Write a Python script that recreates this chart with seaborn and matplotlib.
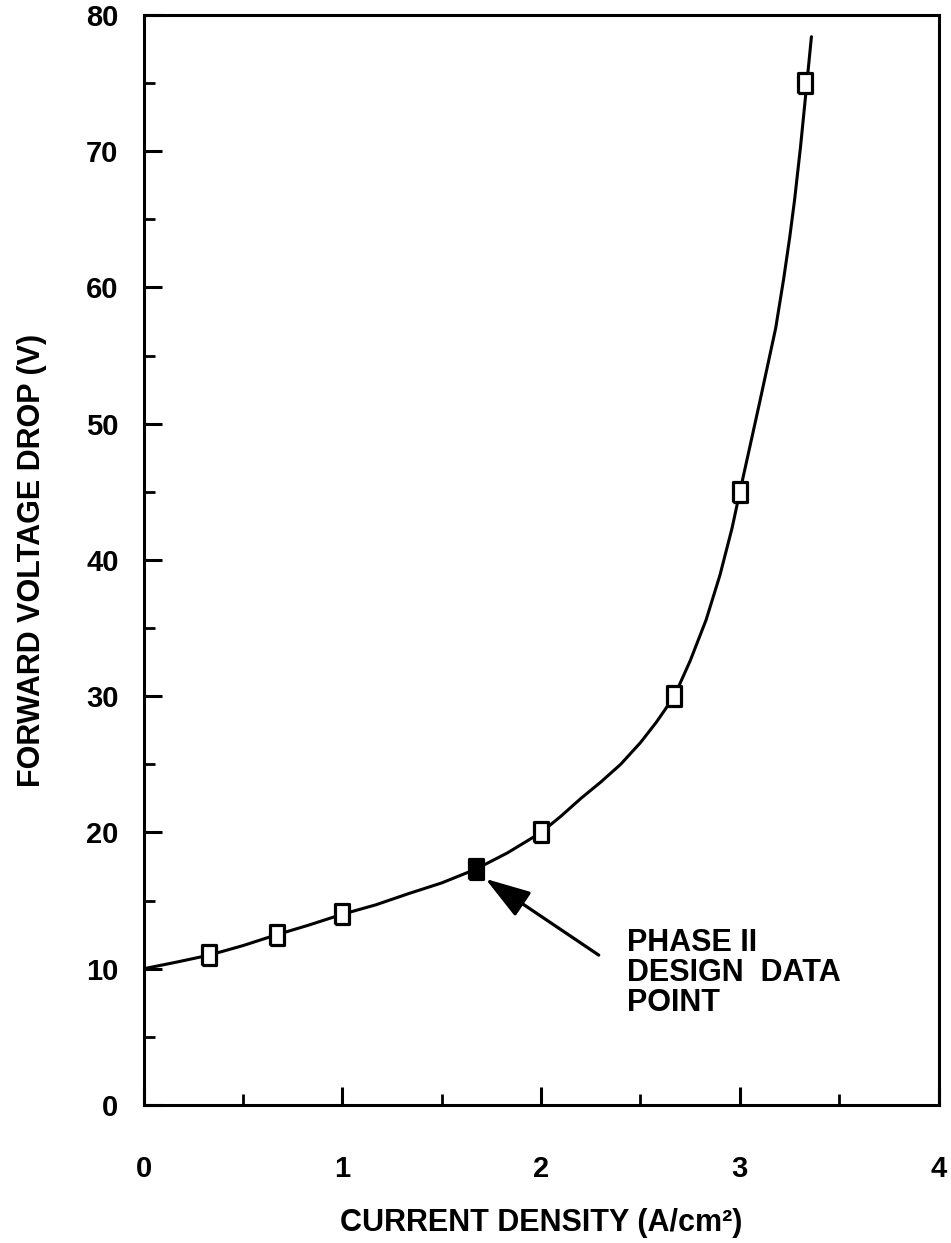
import numpy as np
import matplotlib
matplotlib.use("Agg")
import matplotlib.pyplot as plt
import seaborn as sns

# DATA
point_x = [0.33, 0.67, 1.0, 2.0, 2.67, 3.0, 3.33]
point_y = [11.0, 12.5, 14.0, 20.0, 30.0, 45.0, 75.0]

design_x = [1.67]
design_y = [17.3]

# points
curve_x = [0.0, 0.17, 0.33, 0.5, 0.67, 0.83, 1.0, 1.17, 1.33, 1.5, 1.67, 1.83,
           2.0, 2.1, 2.2, 2.3, 2.4, 2.5, 2.58, 2.67, 2.75, 2.83, 2.9, 2.96,
           3.0, 3.05, 3.1, 3.14, 3.18, 3.22, 3.25, 3.275, 3.305, 3.335, 3.36]
curve_y = [10.0, 10.5, 11.0, 11.7, 12.5, 13.2, 14.0, 14.7, 15.5, 16.3, 17.3, 18.5,
           20.0, 21.2, 22.5, 23.7, 25.0, 26.6, 28.1, 30.0, 32.6, 35.6, 38.9, 42.3,
           45.0, 48.3, 51.6, 54.3, 57.0, 60.6, 63.6, 66.4, 70.3, 74.7, 78.4]

x_ticks = [0, 1, 2, 3, 4]
y_ticks = [0, 10, 20, 30, 40, 50, 60, 70, 80]

# STYLE
sns.set_style("ticks")
plt.rcParams["font.family"] = ["Liberation Sans", "DejaVu Sans"]
plt.rcParams["font.weight"] = "bold"
plt.rcParams["text.color"] = "black"
plt.rcParams["axes.labelcolor"] = "black"
plt.rcParams["xtick.color"] = "black"
plt.rcParams["ytick.color"] = "black"

fig = plt.figure(figsize=(9.51, 12.43), dpi=100)
ax = fig.add_axes([0.151, 0.111, 0.836, 0.877])

# tall rectangular marker like the scan
box = [(-0.36, -0.5), (0.36, -0.5), (0.36, 0.5), (-0.36, 0.5), (-0.36, -0.5)]

sns.lineplot(x=curve_x, y=curve_y, sort=False, color="black", linewidth=2.2, ax=ax)
sns.scatterplot(x=point_x, y=point_y, marker=box, s=190, facecolor="white",
                edgecolor="black", linewidth=2.3, zorder=5, ax=ax)
sns.scatterplot(x=design_x, y=design_y, marker=box, s=190, facecolor="black",
                edgecolor="black", linewidth=2.3, zorder=5, ax=ax)

# ARROW + LABEL
ax.annotate("", xy=(1.72, 16.6), xytext=(2.29, 11.0),
            arrowprops=dict(arrowstyle="-|>,head_length=1.4,head_width=0.45",
                            mutation_scale=20, color="black", lw=2.3,
                            shrinkA=0, shrinkB=0))
ax.text(2.43, 13.0, "PHASE II\nDESIGN  DATA\nPOINT", fontsize=22, fontweight="bold",
        ha="left", va="top", linespacing=1.0)

# AXES
ax.set_xlim(0, 4)
ax.set_ylim(0, 80)
ax.set_xticks(x_ticks)
ax.set_yticks(y_ticks)
ax.set_xticks(np.arange(0.5, 4, 1.0), minor=True)
ax.set_yticks(np.arange(5, 80, 10), minor=True)
ax.tick_params(axis="both", which="major", direction="in", length=13, width=2.2,
               labelsize=21)
ax.tick_params(axis="both", which="minor", direction="in", length=8, width=2.0)
ax.tick_params(axis="x", which="major", pad=36)
ax.tick_params(axis="y", which="major", pad=18)
for side in ["top", "right", "bottom", "left"]:
    ax.spines[side].set_visible(True)
    ax.spines[side].set_linewidth(2.2)
    ax.spines[side].set_color("black")

ax.set_xlabel("CURRENT DENSITY (A/cm²)", fontsize=22, fontweight="bold", labelpad=18)
ax.set_ylabel("FORWARD VOLTAGE DROP (V)", fontsize=22, fontweight="bold", labelpad=28)

plt.savefig("out.png", dpi=100)
